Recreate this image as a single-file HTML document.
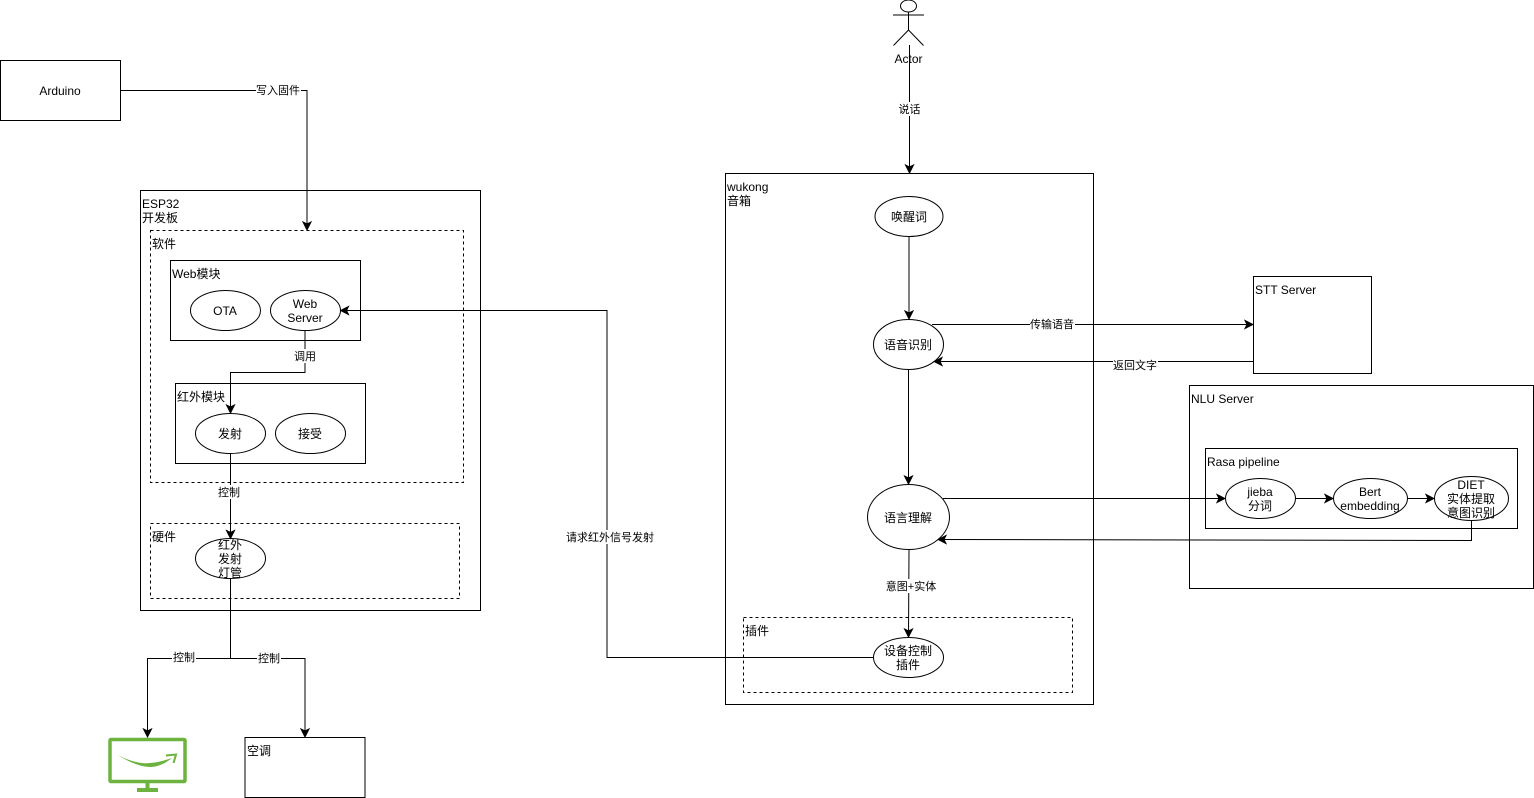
<!DOCTYPE html>
<html><head><meta charset="utf-8"><style>
html,body{margin:0;padding:0;background:#fff;width:1534px;height:798px;overflow:hidden}
svg{display:block}
text{font-family:"Liberation Sans","Noto Sans CJK SC",sans-serif;font-size:12px;fill:#000}
text.l{font-size:11px}
.m{text-anchor:middle}
.s{fill:#fff;stroke:#000;stroke-width:1}
.n{fill:none;stroke:#000;stroke-width:1}
.d{fill:none;stroke:#000;stroke-width:1;stroke-dasharray:3 3}
.w{fill:#fff;stroke:none}
</style></head><body>
<svg width="1534" height="798" viewBox="0 0 1534 798" xmlns="http://www.w3.org/2000/svg">
<defs><marker id="a" viewBox="0 0 10 10" refX="9" refY="5" markerWidth="10" markerHeight="10" markerUnits="userSpaceOnUse" orient="auto"><path d="M1 1 L9 5 L1 9 L3 5 Z" fill="#000" stroke="#000" stroke-width="1"/></marker></defs>

<rect class="s" x="0.5" y="60.5" width="120" height="60"/>
<text class="m" x="60" y="95">Arduino</text>

<rect class="s" x="140.5" y="190.5" width="340" height="420"/>
<text x="142" y="208">ESP32</text><text x="142" y="222">开发板</text>
<rect class="d" x="150.5" y="230.5" width="313" height="252"/>
<text x="152" y="248">软件</text>
<rect class="s" x="170.5" y="260.5" width="190" height="80"/>
<text x="172" y="278">Web模块</text>
<ellipse class="s" cx="225.5" cy="310.5" rx="35" ry="20"/>
<text class="m" x="225" y="315">OTA</text>
<ellipse class="s" cx="305.5" cy="310.5" rx="35" ry="20"/>
<text class="m" x="305" y="308">Web</text><text class="m" x="305" y="322">Server</text>
<rect class="s" x="175.5" y="383.5" width="190" height="80"/>
<text x="177" y="401">红外模块</text>
<ellipse class="s" cx="230.5" cy="433.5" rx="35" ry="20"/>
<text class="m" x="230" y="438">发射</text>
<ellipse class="s" cx="310.5" cy="433.5" rx="35" ry="20"/>
<text class="m" x="310" y="438">接受</text>
<rect class="d" x="150.5" y="523.5" width="309" height="75"/>
<text x="152" y="541">硬件</text>
<ellipse class="s" cx="230.5" cy="558.5" rx="35" ry="20"/>
<text class="m" x="230" y="549">红外</text><text class="m" x="230" y="563">发射</text><text class="m" x="230" y="577">灯管</text>
<rect class="s" x="245" y="737.5" width="120" height="60"/>
<text x="247" y="755">空调</text>

<rect class="s" x="725.5" y="173.5" width="368" height="531"/>
<text x="727" y="191">wukong</text><text x="727" y="205">音箱</text>
<ellipse class="s" cx="909" cy="216.5" rx="34" ry="20"/>
<text class="m" x="909" y="221">唤醒词</text>
<ellipse class="s" cx="908.5" cy="344.5" rx="35" ry="25"/>
<text class="m" x="908" y="349">语音识别</text>
<ellipse class="s" cx="908.5" cy="517" rx="41" ry="32.5"/>
<text class="m" x="908" y="522">语言理解</text>
<rect class="d" x="743.5" y="617.5" width="329" height="75"/>
<text x="745" y="635">插件</text>
<ellipse class="s" cx="908.5" cy="657.5" rx="35" ry="20"/>
<text class="m" x="908" y="655">设备控制</text><text class="m" x="908" y="669">插件</text>

<rect class="s" x="1253.5" y="276.5" width="118" height="97"/>
<text x="1255" y="294">STT Server</text>
<rect class="s" x="1189.5" y="385.5" width="344" height="203"/>
<text x="1191" y="403">NLU Server</text>
<rect class="s" x="1205.5" y="448.5" width="312" height="80"/>
<text x="1207" y="466">Rasa pipeline</text>
<ellipse class="s" cx="1260.5" cy="498.5" rx="35" ry="20"/>
<text class="m" x="1260" y="496">jieba</text><text class="m" x="1260" y="510">分词</text>
<ellipse class="s" cx="1370.5" cy="498.5" rx="37" ry="20"/>
<text class="m" x="1370" y="496">Bert</text><text class="m" x="1370" y="510">embedding</text>
<ellipse class="s" cx="1471.5" cy="498.5" rx="37" ry="22"/>
<text class="m" x="1471" y="489">DIET</text><text class="m" x="1471" y="503">实体提取</text><text class="m" x="1471" y="517">意图识别</text>

<!-- actor -->
<ellipse class="s" cx="908.5" cy="6" rx="8" ry="6"/>
<path class="n" d="M908.5 12V30M893 15H924M908.5 30L893.5 45.5M908.5 30L923.5 45.5"/>
<text class="m" x="908.5" y="63">Actor</text>

<!-- connectors -->
<path class="n" d="M120.5 90.5H307V230" marker-end="url(#a)"/>
<path class="n" d="M305 330.5V372.5H230.5V413" marker-end="url(#a)"/>
<path class="n" d="M230.5 453.5V538.5" marker-end="url(#a)"/>
<path class="n" d="M230.5 578.5V658.5H147.5V737" marker-end="url(#a)"/>
<path class="n" d="M230.5 658.5H305V737" marker-end="url(#a)"/>
<path class="n" d="M873.5 657.5H607V310.5H340.5" marker-end="url(#a)"/>
<path class="n" d="M909.5 45V173" marker-end="url(#a)"/>
<path class="n" d="M909 236.5V319" marker-end="url(#a)"/>
<path class="n" d="M908.5 369.5V484" marker-end="url(#a)"/>
<path class="n" d="M909 549.5L908.5 637" marker-end="url(#a)"/>
<path class="n" d="M932 324.5H1253" marker-end="url(#a)"/>
<path class="n" d="M1253.5 361.5H934" marker-end="url(#a)"/>
<path class="n" d="M943 498.5H1225" marker-end="url(#a)"/>
<path class="n" d="M1295.5 498.5H1333" marker-end="url(#a)"/>
<path class="n" d="M1407.5 498.5H1434" marker-end="url(#a)"/>
<path class="n" d="M1471.5 520.5V540.5L938 539.5" marker-end="url(#a)"/>

<!-- connector labels -->
<rect class="w" x="256" y="83" width="45" height="14"/><text class="l m" x="278" y="94">写入固件</text>
<rect class="w" x="293" y="349" width="24" height="14"/><text class="l m" x="305" y="360">调用</text>
<rect class="w" x="217" y="485" width="24" height="14"/><text class="l m" x="229" y="496">控制</text>
<rect class="w" x="172" y="650" width="24" height="14"/><text class="l m" x="184" y="661">控制</text>
<rect class="w" x="257" y="651" width="24" height="14"/><text class="l m" x="269" y="662">控制</text>
<rect class="w" x="565" y="530" width="90" height="14"/><text class="l m" x="610" y="541">请求红外信号发射</text>
<rect class="w" x="898" y="102" width="24" height="14"/><text class="l m" x="909.5" y="113">说话</text>
<rect class="w" x="1030" y="317" width="45" height="14"/><text class="l m" x="1052" y="328">传输语音</text>
<rect class="w" x="1113" y="358" width="45" height="14"/><text class="l m" x="1135" y="369">返回文字</text>
<rect class="w" x="885" y="579" width="53" height="14"/><text class="l m" x="911" y="590">意图+实体</text>

<!-- TV icon -->
<rect x="110" y="739.5" width="75" height="42" rx="1" fill="none" stroke="#6CB33F" stroke-width="3.5"/>
<rect x="145.5" y="783" width="4" height="6" fill="#6CB33F"/>
<rect x="137" y="788" width="21" height="4" fill="#6CB33F"/>
<path d="M118 755C130 763 142 767 150 767C158 767 166 763 172 758C160 762 150 764 142 763C133 762 125 759 118 755Z" fill="#6CB33F"/>
<path d="M166 755.5L176 754.5L173.5 763" fill="none" stroke="#6CB33F" stroke-width="2"/>
</svg>
</body></html>
